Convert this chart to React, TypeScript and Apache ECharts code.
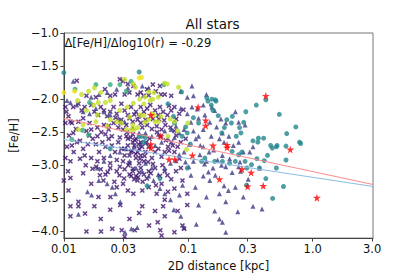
import React, { useEffect, useRef } from "react";
import * as echarts from "echarts";

// ---- data (r in kpc, [Fe/H]) ----
const crossStars: number[][] = [
  [0.0127,-1.72],[0.0282,-1.70],[0.0299,-1.73],[0.0327,-1.77],[0.0362,-1.80],[0.0467,-1.85],[0.0548,-1.88],[0.0592,-1.80],
  [0.0519,-1.78],[0.0258,-1.93],[0.0236,-1.95],[0.0308,-1.93],[0.0337,-1.90],[0.0391,-1.93],[0.0415,-1.90],[0.0437,-1.95],
  [0.0481,-1.94],[0.0152,-1.95],[0.0181,-1.97],[0.0603,-1.93],[0.0647,-1.93],[0.0729,-1.95],[0.0214,-1.85],
  [0.0103,-2.12],[0.0105,-2.19],[0.0109,-2.26],[0.0113,-2.34],[0.0116,-2.36],[0.0103,-2.36],[0.0119,-2.12],[0.0131,-2.07],
  [0.0139,-2.17],[0.0147,-2.12],[0.0166,-2.09],[0.0176,-2.19],[0.0189,-2.24],[0.0198,-2.12],[0.0210,-2.17],[0.0223,-2.26],
  [0.0236,-2.19],[0.0251,-2.12],[0.0266,-2.22],[0.0290,-2.07],[0.0308,-2.17],[0.0327,-2.24],[0.0347,-2.12],[0.0380,-2.19],
  [0.0415,-2.12],[0.0440,-2.19],[0.0467,-2.14],[0.0495,-2.09],[0.0541,-2.17],[0.0592,-2.12],[0.0628,-2.19],[0.0679,-2.24],
  [0.0729,-2.17],[0.0774,-2.12],[0.0846,-2.22],[0.0914,-2.16],[0.0131,-2.34],[0.0143,-2.29],[0.0161,-2.36],[0.0186,-2.43],
  [0.0210,-2.39],[0.0229,-2.46],[0.0251,-2.36],[0.0274,-2.43],[0.0299,-2.46],[0.0318,-2.39],[0.0358,-2.34],[0.0391,-2.31],
  [0.0427,-2.43],[0.0467,-2.39],[0.0510,-2.45],[0.0558,-2.41],[0.0610,-2.46],[0.0655,-2.39],[0.0720,-2.43],[0.0774,-2.48],
  [0.0166,-2.46],[0.0152,-2.48],[0.0119,-2.51],[0.0337,-2.29],[0.0368,-2.23],[0.0403,-2.26],[0.0453,-2.31],[0.0290,-2.31],
  [0.0575,-2.24],[0.0415,-2.36],
  [0.0106,-2.72],[0.0116,-2.70],[0.0127,-2.65],[0.0135,-2.63],[0.0143,-2.75],[0.0156,-2.68],[0.0171,-2.60],[0.0181,-2.68],
  [0.0192,-2.80],[0.0204,-2.65],[0.0216,-2.72],[0.0229,-2.60],[0.0243,-2.70],[0.0258,-2.80],[0.0274,-2.65],[0.0290,-2.75],
  [0.0308,-2.85],[0.0327,-2.70],[0.0347,-2.80],[0.0358,-2.65],[0.0380,-2.89],[0.0403,-2.75],[0.0415,-2.85],[0.0440,-2.94],
  [0.0453,-2.80],[0.0481,-2.72],[0.0510,-2.89],[0.0541,-2.80],[0.0575,-2.75],[0.0610,-2.87],[0.0647,-2.80],[0.0687,-2.72],
  [0.0729,-2.65],[0.0774,-2.80],[0.0821,-2.72],[0.0871,-2.65],[0.0953,-2.60],[0.0103,-2.89],[0.0113,-2.94],[0.0147,-2.85],
  [0.0166,-2.89],[0.0186,-2.94],[0.0210,-2.89],[0.0236,-2.97],[0.0266,-2.92],[0.0299,-2.94],[0.0337,-2.97],[0.0403,-2.97],
  [0.0318,-2.56],[0.0282,-2.58],[0.0358,-2.53],[0.0216,-2.53],[0.0243,-2.56],[0.0186,-2.56],[0.0327,-2.60],[0.0368,-2.70],
  [0.0391,-2.80],[0.0337,-2.85],[0.0415,-2.65],[0.0308,-2.75],[0.0380,-2.60],
  [0.0108,-3.09],[0.0113,-3.19],[0.0143,-3.12],[0.0182,-3.02],[0.0198,-3.06],[0.0216,-3.14],[0.0236,-3.04],[0.0266,-3.09],
  [0.0282,-3.02],[0.0308,-3.06],[0.0337,-3.14],[0.0358,-3.09],[0.0380,-3.16],[0.0415,-3.04],[0.0440,-3.14],[0.0481,-3.09],
  [0.0541,-3.04],[0.0592,-3.16],[0.0647,-3.09],[0.0729,-3.21],[0.0797,-3.09],[0.0871,-3.04],[0.0109,-3.38],[0.0166,-3.28],
  [0.0190,-3.48],[0.0208,-3.23],[0.0237,-3.48],[0.0266,-3.33],[0.0299,-3.28],[0.0327,-3.38],[0.0362,-3.43],[0.0391,-3.23],
  [0.0427,-3.38],[0.0481,-3.33],[0.0558,-3.43],[0.0610,-3.28],[0.0687,-3.40],[0.0774,-3.35],[0.0898,-3.23],[0.0982,-3.43],
  [0.0647,-3.52],[0.0100,-3.23],[0.0368,-3.21],[0.0347,-3.16],[0.0403,-3.11],
  [0.0131,-3.55],[0.0113,-3.62],[0.0148,-3.73],[0.0113,-3.77],[0.0131,-3.62],[0.0152,-4.00],[0.0199,-4.00],[0.0245,-3.96],
  [0.0284,-3.60],[0.0292,-3.98],[0.0308,-4.08],[0.0371,-3.98],[0.0337,-3.81],[0.0427,-3.62],[0.0484,-3.91],[0.0568,-3.86],
  [0.0596,-3.98],[0.0610,-4.06],[0.0647,-3.77],[0.0774,-4.01],[0.0898,-3.91],[0.0925,-3.96],[0.0982,-3.60],[0.0821,-3.69],
  [0.0628,-3.62],[0.0236,-3.67],[0.0198,-3.81],[0.0176,-3.62],[0.0403,-3.72],[0.0541,-3.69],
  [0.0322,-2.50],[0.0345,-2.58],[0.0372,-2.62],[0.0398,-2.68],[0.0425,-2.72],[0.0455,-2.66],[0.0488,-2.60],[0.0352,-2.78],
  [0.0378,-2.83],[0.0410,-2.90],[0.0445,-2.86],[0.0475,-2.95],[0.0520,-2.98],[0.0330,-3.00],[0.0360,-3.05],[0.0395,-3.18],
  [0.0430,-3.25],[0.0465,-3.20],[0.0500,-3.12],[0.0550,-3.30],[0.0305,-3.20],[0.0280,-3.15],[0.0255,-3.25],[0.0225,-3.10],
  [0.0195,-3.15],[0.0170,-3.05],[0.0150,-3.00],[0.0135,-2.90],[0.0120,-2.80],[0.0110,-2.55],[0.0125,-2.45],[0.0160,-2.55],
  [0.0200,-2.50],[0.0230,-2.40],[0.0260,-2.28],[0.0285,-2.36],[0.0560,-2.50],[0.0600,-2.56],[0.0660,-2.62],[0.0700,-2.78],
  [0.0750,-2.70],[0.0800,-2.55],[0.0850,-2.90],[0.0620,-3.00],[0.0680,-3.15],[0.0580,-2.30],[0.0520,-2.30],[0.0640,-2.32],
  [0.0700,-2.10],[0.0800,-2.30]
];

const triangleStars: number[][] = [
  [0.0119,-1.73],[0.110,-1.95],[0.140,-1.93],[0.132,-2.09],[0.155,-2.12],[0.163,-2.17],[0.107,-2.12],[0.0982,-2.22],
  [0.0871,-2.14],[0.183,-2.30],[0.200,-2.36],[0.169,-2.42],[0.149,-2.35],[0.136,-2.24],[0.121,-2.29],[0.254,-2.35],
  [0.286,-2.39],[0.239,-2.19],[0.212,-2.56],[0.194,-2.65],[0.178,-2.60],[0.160,-2.77],[0.147,-2.80],[0.132,-2.72],
  [0.121,-2.56],[0.110,-2.48],[0.102,-2.68],[0.0925,-2.80],[0.0846,-2.84],[0.124,-2.84],[0.140,-2.94],[0.158,-3.04],
  [0.172,-2.92],[0.188,-2.85],[0.110,-2.94],[0.101,-3.02],[0.200,-3.02],[0.254,-3.02],[0.263,-3.09],[0.277,-2.80],
  [0.312,-2.80],[0.331,-2.72],[0.375,-3.04],[0.303,-3.21],[0.277,-3.48],[0.239,-3.33],[0.194,-3.31],[0.178,-3.43],
  [0.149,-3.23],[0.132,-3.16],[0.114,-3.33],[0.121,-3.60],[0.140,-3.48],[0.163,-3.69],[0.188,-3.86],[0.200,-4.01],
  [0.178,-3.81],[0.116,-3.89],[0.0925,-3.94],[0.0871,-3.77],[0.0765,-3.67],[0.0720,-3.52],[0.0647,-3.43],[0.0592,-3.35],
  [0.0526,-3.23],[0.0481,-3.16],[0.0427,-3.09],[0.0380,-3.04],[0.0337,-2.94],[0.0575,-3.14],[0.0647,-3.04],[0.0720,-2.97],
  [0.0797,-2.93],[0.0510,-3.04],[0.0453,-2.97],[0.0260,-3.43],[0.0310,-4.01],[0.0349,-3.96],[0.0389,-3.94],[0.0284,-3.55],
  [0.0245,-3.33],[0.0223,-3.28],[0.0191,-3.23],[0.0167,-3.45],[0.0155,-3.40],[0.0131,-3.74],[0.0186,-3.04],[0.0210,-2.94],
  [0.0236,-2.85],[0.0282,-2.80],[0.0318,-2.75],[0.0368,-2.72],[0.0415,-2.68],[0.0467,-2.65],[0.0541,-2.70],[0.0610,-2.65],
  [0.0687,-2.60],[0.0774,-2.58],[0.0846,-2.51],[0.0925,-2.46],[0.0575,-2.53],[0.0647,-2.48],[0.0729,-2.46],[0.0797,-2.41],
  [0.0510,-2.56],[0.0453,-2.51],[0.0403,-2.51],[0.0358,-2.43],[0.0308,-2.34],[0.0274,-2.29],[0.0236,-2.24],[0.0210,-2.19],
  [0.0181,-2.14],[0.0161,-2.22],[0.0143,-2.19],[0.0127,-2.09],[0.0113,-2.05],[0.0106,-2.02],[0.0166,-1.97],[0.0192,-1.93],
  [0.0223,-1.90],[0.0266,-1.85],[0.0327,-1.83],[0.0427,-1.80],[0.0481,-1.83],[0.0871,-1.88],[0.0982,-1.97],[0.107,-1.80],
  [0.391,-3.66],[0.210,-3.38],[0.225,-3.11],[0.331,-3.62],[0.132,-2.46],[0.153,-2.56],[0.188,-2.51],[0.254,-2.65],
  [0.115,-2.60],[0.125,-2.70],[0.135,-2.98],[0.145,-3.10],[0.165,-3.15],[0.185,-3.00],[0.215,-2.90],[0.230,-2.70],
  [0.260,-2.95],[0.105,-2.35],[0.118,-2.15],[0.095,-2.95],[0.105,-3.15],[0.090,-3.30],[0.085,-3.45],[0.200,-3.55],
  [0.250,-3.70]
];

const tealStars: number[][] = [
  [0.420,-2.01],[0.352,-2.09],[0.141,-1.98],[0.155,-2.00],[0.165,-2.01],[0.167,-2.03],[0.144,-2.03],[0.290,-2.19],
  [0.539,-2.23],[0.731,-2.42],[0.618,-2.52],[0.783,-2.65],[0.800,-2.67],[0.510,-2.72],[0.459,-2.70],[0.473,-2.74],
  [0.433,-2.85],[0.517,-2.70],[0.610,-2.71],[0.362,-2.65],[0.331,-2.63],[0.403,-2.59],[0.366,-2.59],[0.279,-2.35],
  [0.258,-2.43],[0.265,-2.51],[0.243,-2.56],[0.226,-2.26],[0.222,-2.36],[0.204,-2.31],[0.195,-2.43],[0.186,-2.51],
  [0.174,-2.25],[0.158,-2.17],[0.153,-2.09],[0.110,-2.28],[0.121,-2.36],[0.188,-2.94],[0.225,-2.79],[0.254,-2.84],
  [0.269,-2.80],[0.239,-2.94],[0.215,-2.97],[0.286,-2.94],[0.296,-3.04],[0.322,-2.99],[0.356,-2.90],[0.408,-2.93],
  [0.373,-3.04],[0.420,-3.20],[0.510,-3.04],[0.610,-2.92],[0.476,-3.50],[0.582,-3.32],[0.294,-3.30],[0.136,-2.89],
  [0.128,-2.94],[0.163,-2.94],[0.0982,-3.04],[0.0467,-3.31],[0.0592,-3.20],[0.0403,-2.57],[0.0427,-2.56],[0.0453,-2.58],
  [0.0440,-2.65],[0.104,-2.68],[0.0982,-2.51],[0.0892,-2.56],[0.0953,-2.42],[0.0774,-2.36],[0.0760,-2.26],[0.0687,-2.07],
  [0.0882,-1.89],[0.0639,-1.78],[0.0403,-1.59],[0.0100,-1.60],[0.0236,-2.75]
];

const greenStars: number[][] = [
  [0.0123,-1.85],[0.0161,-2.05],[0.0181,-1.78],[0.0236,-1.78],[0.0282,-1.78],[0.0347,-1.73],[0.0318,-1.88],
  [0.0141,-2.47],[0.0116,-2.61],[0.0158,-2.54]
];

const yellowGreenStars: number[][] = [
  [0.0308,-1.70],[0.0362,-1.77],[0.0376,-1.82],[0.0481,-1.89],[0.0530,-1.90],[0.0647,-1.76],[0.0679,-1.77],
  [0.0836,-1.82],[0.0575,-1.97],[0.0448,-1.97],[0.0407,-2.00],[0.0440,-2.07],[0.0495,-2.02],[0.0518,-2.00],[0.0362,-2.06],
  [0.0322,-2.12],[0.0337,-2.27],[0.0411,-2.24],[0.0440,-2.25],[0.0448,-2.35],[0.0481,-2.31],[0.0510,-2.22],[0.0533,-2.24],
  [0.0541,-2.34],[0.0575,-2.34],[0.0603,-2.26],[0.0358,-2.39],[0.0368,-2.46],[0.0391,-2.43],[0.0318,-2.46],[0.0347,-2.46],
  [0.0282,-2.17],[0.0236,-2.02],[0.0216,-2.05],[0.0198,-1.90],[0.0176,-1.83],[0.0158,-1.88],[0.0139,-1.93],[0.0129,-2.02],
  [0.0189,-2.05],[0.0174,-2.09],[0.0152,-2.17],[0.0186,-2.24],[0.0143,-2.39],[0.0131,-2.46],[0.0266,-2.34],[0.0290,-2.36],
  [0.0223,-2.41],[0.0236,-2.31],[0.0181,-2.34],[0.0994,-2.36],[0.0774,-2.34],[0.0821,-2.48],[0.0970,-2.76],[0.0716,-2.30],
  [0.0687,-2.56]
];

const yellowStars: number[][] = [
  [0.0403,-1.68],[0.0422,-1.67],[0.0122,-1.88],[0.0100,-1.90]
];

const redStars: number[][] = [
  [0.42,-1.95],[0.12,-2.12],[0.138,-2.32],[0.138,-2.40],[0.05,-2.24],[0.06,-2.56],[0.05,-2.68],[0.05,-2.74],
  [0.158,-2.70],[0.205,-2.69],[0.205,-2.73],[0.66,-2.76],[0.108,-2.85],[0.07,-2.91],[0.078,-2.91],[0.27,-3.06],
  [0.32,-3.11],[0.178,-3.21],[0.30,-3.32],[0.40,-3.31],[1.08,-3.49]
];

const redFit: number[][] = [[0.01, -2.29], [3.05, -3.29]];
const blueFit: number[][] = [[0.01, -2.61], [3.05, -3.32]];

const xTickValues = [0.01, 0.03, 0.1, 0.3, 1.0, 3.0];
const xTickLabels = ["0.01", "0.03", "0.1", "0.3", "1.0", "3.0"];
const yTickValues = [-4.0, -3.5, -3.0, -2.5, -2.0, -1.5, -1.0];

const titleText = "All stars";
const slopeText = "\u0394[Fe/H]/\u0394log10(r) = -0.29";

const FONT = "DejaVu Sans";
const X_PATH = "path://M0,2L2,0L5,3L8,0L10,2L7,5L10,8L8,10L5,7L2,10L0,8L3,5Z";
const STAR_PATH = "path://M50,0L61,35L98,35L68,57L79,91L50,70L21,91L32,57L2,35L39,35Z";

export default function App() {
  const ref = useRef<HTMLDivElement>(null);
  useEffect(() => {
    if (!ref.current) return;
    const chart = echarts.init(ref.current, undefined, { renderer: "svg" });
    const axisColor = "#444";
    chart.setOption({
      animation: false,
      backgroundColor: "#ffffff",
      title: {
        text: titleText,
        left: 212.5,
        top: 17,
        textAlign: "center",
        padding: 0,
        textStyle: { fontFamily: FONT, fontSize: 13.5, fontWeight: "normal", color: "#111" },
      },
      grid: { left: 52, right: 42, top: 33, bottom: 30.5, show: true, borderColor: "#777", borderWidth: 1 },
      graphic: [
        {
          type: "text", x: 64.5, y: 43,
          style: { text: slopeText, font: `11.5px ${FONT}`, fill: "#111", align: "left", verticalAlign: "middle" },
        },
      ],
      xAxis: {
        type: "log",
        logBase: 10,
        min: 0.01,
        max: 3.05,
        name: "2D distance [kpc]",
        nameLocation: "middle",
        nameGap: 14,
        nameTextStyle: { fontFamily: FONT, fontSize: 11.5, color: "#111" },
        axisLine: { show: true, lineStyle: { color: axisColor } },
        axisTick: { show: true, length: 3.5, lineStyle: { color: axisColor }, customValues: xTickValues },
        minorTick: { show: false },
        splitLine: { show: false },
        axisLabel: {
          customValues: xTickValues,
          fontFamily: FONT,
          fontSize: 11.5,
          color: "#111",
          margin: 5,
          formatter: (v: number) => {
            let best = 0;
            for (let i = 0; i < xTickValues.length; i++) {
              if (Math.abs(Math.log10(xTickValues[i]) - Math.log10(v)) < Math.abs(Math.log10(xTickValues[best]) - Math.log10(v))) best = i;
            }
            return xTickLabels[best];
          },
        },
      },
      yAxis: {
        type: "value",
        min: -4.1,
        max: -1.0,
        name: "[Fe/H]",
        nameLocation: "middle",
        nameGap: 34,
        nameTextStyle: { fontFamily: FONT, fontSize: 11.5, color: "#111" },
        axisLine: { show: true, lineStyle: { color: axisColor } },
        axisTick: { show: true, length: 3.5, lineStyle: { color: axisColor }, customValues: yTickValues },
        splitLine: { show: false },
        axisLabel: {
          customValues: yTickValues,
          fontFamily: FONT,
          fontSize: 11.5,
          color: "#111",
          margin: 5,
          formatter: (v: number) => v.toFixed(1).replace("-", "\u2212"),
        },
      },
      series: [
        {
          type: "scatter", data: crossStars, symbol: X_PATH, symbolSize: 5,
          itemStyle: { color: "#3a0d66", borderColor: "rgba(130,100,180,0.4)", borderWidth: 0.4 },
        },
        {
          type: "scatter", data: triangleStars, symbol: "triangle", symbolSize: 5,
          itemStyle: { color: "#3d3a84" },
        },
        { type: "scatter", data: tealStars, symbol: "circle", symbolSize: 5, itemStyle: { color: "#23868d" } },
        { type: "scatter", data: greenStars, symbol: "circle", symbolSize: 5, itemStyle: { color: "#35a97b" } },
        { type: "scatter", data: yellowGreenStars, symbol: "circle", symbolSize: 5, itemStyle: { color: "#c3df26" } },
        { type: "scatter", data: yellowStars, symbol: "circle", symbolSize: 5, itemStyle: { color: "#eee51b" } },
        {
          type: "line", data: redFit, symbol: "none", lineStyle: { color: "#ff8a8a", width: 1 }, z: 3,
        },
        {
          type: "line", data: blueFit, symbol: "none", lineStyle: { color: "#8cbde3", width: 1 }, z: 3,
        },
        { type: "scatter", data: redStars, symbol: STAR_PATH, symbolSize: 8, itemStyle: { color: "#ff0000" }, z: 4 },
      ],
    });
    return () => chart.dispose();
  }, []);
  return <div ref={ref} style={{ position: "fixed", left: 0, top: 0, width: 415, height: 277 }} />;
}
